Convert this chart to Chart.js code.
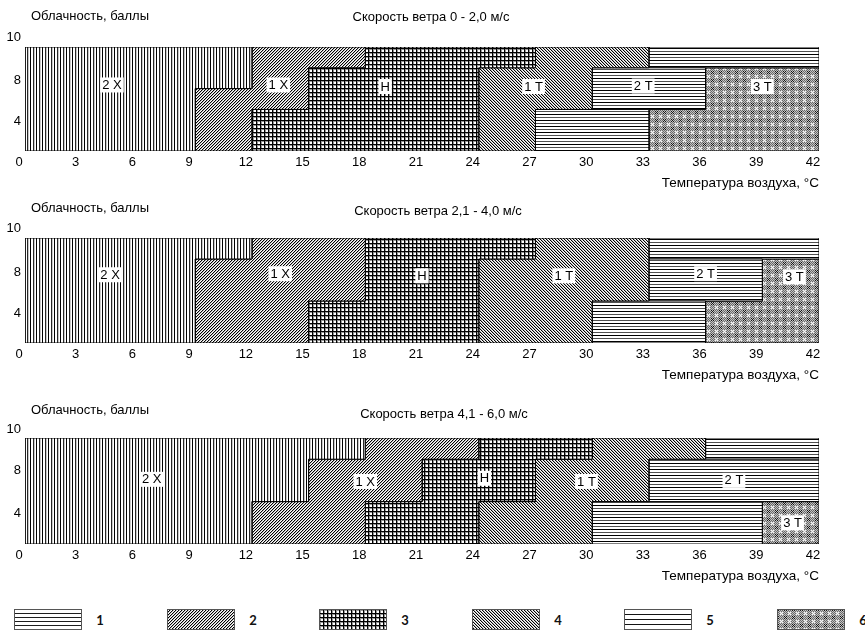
<!DOCTYPE html>
<html>
<head>
<meta charset="utf-8">
<script src="https://cdn.jsdelivr.net/npm/chart.js@4.4.1/dist/chart.umd.min.js"></script>
<style>
  body { margin: 0; background: #fff; width: 865px; height: 631px; position: relative; overflow: hidden;
         font-family: 'Liberation Sans', Arial, sans-serif; }
  canvas.panel { position: absolute; left: 0; }
  canvas.swatch { position: absolute; top: 609px; }
  .legnum { position: absolute; top: 610px; width: 20px; margin-left: -10px; text-align: center;
            font: bold 13px Lato, 'Liberation Sans', sans-serif; color: #111; line-height: 20px; }
</style>
</head>
<body>
<canvas id="p0" class="panel" width="865" height="195" style="top:0px"></canvas>
<canvas id="p1" class="panel" width="865" height="196" style="top:191px"></canvas>
<canvas id="p2" class="panel" width="865" height="197" style="top:391px"></canvas>
<div id="legend"></div>
<script>
// --- DATA ---
const tempTicks = [0, 3, 6, 9, 12, 15, 18, 21, 24, 27, 30, 33, 36, 39, 42];
const cloudTickLabels = ['10', '8', '4'];
// the numbers on the cloud axis sit a bit above the band edges in the source
const cloudTickAt = [
  [10.9, 6.8, 2.85],
  [10.95, 6.7, 2.85],
  [10.85, 6.9, 2.9]
];
const windTitles = ['Скорость ветра 0 - 2,0 м/с', 'Скорость ветра 2,1 - 4,0 м/с', 'Скорость ветра 4,1 - 6,0 м/с'];
const classNames = ['2 Х', '1 Х', 'Н', '1 Т', '2 Т', '3 Т'];
const legendNums = ['1', '2', '3', '4', '5', '6'];

// zones: [fill, [[t, cloud], ...]]  (temperature °C, cloudiness)
const zones0 = [
  ['vert',  [[0,0],[9,0],[9,6],[12,6],[12,10],[0,10]]],
  ['fwd',   [[9,0],[12,0],[12,4],[15,4],[15,8],[18,8],[18,10],[12,10],[12,6],[9,6]]],
  ['grid',  [[12,0],[24,0],[24,8],[27,8],[27,10],[18,10],[18,8],[15,8],[15,4],[12,4]]],
  ['back',  [[24,0],[27,0],[27,4],[30,4],[30,8],[33,8],[33,10],[27,10],[27,8],[24,8]]],
  ['horiz', [[27,0],[33,0],[33,4],[27,4]]],
  ['horiz', [[30,4],[36,4],[36,8],[30,8]]],
  ['horiz', [[33,8],[42,8],[42,10],[33,10]]],
  ['dots',  [[33,0],[42,0],[42,8],[36,8],[36,4],[33,4]]]
];
const zones1 = [
  ['vert',  [[0,0],[9,0],[9,8],[12,8],[12,10],[0,10]]],
  ['fwd',   [[9,0],[15,0],[15,4],[18,4],[18,10],[12,10],[12,8],[9,8]]],
  ['grid',  [[15,0],[24,0],[24,8],[27,8],[27,10],[18,10],[18,4],[15,4]]],
  ['back',  [[24,0],[30,0],[30,4],[33,4],[33,10],[27,10],[27,8],[24,8]]],
  ['horiz', [[30,0],[36,0],[36,4],[30,4]]],
  ['horiz', [[33,4],[39,4],[39,8],[33,8]]],
  ['horiz', [[33,8],[42,8],[42,10],[33,10]]],
  ['dots',  [[36,0],[42,0],[42,8],[39,8],[39,4],[36,4]]]
];
const zones2 = [
  ['vert',  [[0,0],[12,0],[12,4],[15,4],[15,8],[18,8],[18,10],[0,10]]],
  ['fwd',   [[12,0],[18,0],[18,4],[21,4],[21,8],[24,8],[24,10],[18,10],[18,8],[15,8],[15,4],[12,4]]],
  ['grid',  [[18,0],[24,0],[24,4],[27,4],[27,8],[30,8],[30,10],[24,10],[24,8],[21,8],[21,4],[18,4]]],
  ['back',  [[24,0],[30,0],[30,4],[33,4],[33,8],[36,8],[36,10],[30,10],[30,8],[27,8],[27,4],[24,4]]],
  ['horiz', [[30,0],[39,0],[39,4],[30,4]]],
  ['horiz', [[33,4],[42,4],[42,8],[33,8]]],
  ['horiz', [[36,8],[42,8],[42,10],[36,10]]],
  ['dots',  [[39,0],[42,0],[42,4],[39,4]]]
];
// where the class names sit, [t, cloud], in classNames order
const namesAt0 = [[4.6,6.35],[13.4,6.35],[19.05,6.2],[26.9,6.2],[32.7,6.25],[39.0,6.2]];
const namesAt1 = [[4.5,6.5],[13.5,6.6],[21.0,6.4],[28.5,6.4],[36.0,6.6],[40.7,6.3]];
const namesAt2 = [[6.7,6.1],[18.0,5.9],[24.3,6.2],[29.7,5.9],[37.5,6.0],[40.6,2.0]];

const legendFills = ['horizL', 'fwd', 'grid', 'back', 'horizW', 'dots'];

const FONT = "'Liberation Sans', Arial, sans-serif";
Chart.defaults.font.family = FONT;
Chart.defaults.font.size = 13;
Chart.defaults.color = '#000';

// --- PATTERNS ---
function tile(w, h, fn) {
  const c = document.createElement('canvas');
  c.width = w; c.height = h;
  const g = c.getContext('2d');
  const img = g.createImageData(w, h);
  for (let y = 0; y < h; y++) for (let x = 0; x < w; x++) {
    const v = fn(x, y), i = (y * w + x) * 4;
    img.data[i] = img.data[i + 1] = img.data[i + 2] = v;
    img.data[i + 3] = 255;
  }
  g.putImageData(img, 0, 0);
  return g.createPattern(c, 'repeat');
}
const patterns = {
  vert: tile(6, 1, x => x === 0 ? 0 : x === 3 ? 40 : x === 4 ? 200 : 255),
  fwd: tile(3, 3, (x, y) => { const k = (x + y) % 3; return k === 0 ? 0 : k === 1 ? 185 : 255; }),
  back: tile(3, 3, (x, y) => { const k = (x - y + 3) % 3; return k === 0 ? 0 : k === 1 ? 185 : 255; }),
  grid: tile(4, 4, (x, y) => (x === 0 || y === 0) ? 0 : (x === 1 || y === 1) ? 150 : 255),
  horiz: tile(1, 6, (x, y) => y === 0 ? 0 : y === 3 ? 80 : 255),
  horizL: tile(1, 4, (x, y) => y === 0 ? 30 : 255),
  horizW: tile(1, 5, (x, y) => y === 0 ? 20 : 255),
  dots: tile(8, 8, (x, y) => {
    const dx = Math.abs(x - 4), dy = Math.abs(y - 4);
    if (dx === dy && dx <= 1) return 245;
    if (dx >= 3 && dy >= 3 && dx === dy) return 20;
    return (x + y) % 2 ? 195 : 105;
  })
};

// --- PLUGINS ---
const headings = {
  id: 'headings',
  afterDraw(chart, args, o) {
    const {ctx, chartArea: a} = chart;
    ctx.save();
    ctx.font = '13px ' + FONT;
    ctx.fillStyle = '#000';
    ctx.textBaseline = 'middle';
    ctx.textAlign = 'left';
    ctx.fillText('Облачность, баллы', a.left + 6, a.top - o.leftDy);
    ctx.textAlign = 'center';
    ctx.fillText(o.title, (a.left + a.right) / 2 + o.titleDx, a.top - o.titleDy);
    ctx.restore();
  }
};
const zoneNames = {
  id: 'zoneNames',
  afterDatasetsDraw(chart, args, o) {
    const {ctx, scales} = chart;
    ctx.save();
    ctx.font = '13px ' + FONT;
    ctx.textBaseline = 'middle';
    ctx.textAlign = 'center';
    o.at.forEach(([t, c], i) => {
      const px = scales.x.getPixelForValue(t), py = scales.y.getPixelForValue(c);
      const w = ctx.measureText(classNames[i]).width;
      ctx.fillStyle = '#fff';
      ctx.fillRect(px - w / 2 - 2, py - 7.5, w + 4, 15);
      ctx.fillStyle = '#000';
      ctx.fillText(classNames[i], px, py + 0.5);
    });
    ctx.restore();
  }
};

const panels = [
  {zones: zones0, at: namesAt0, leftDy: 31, titleDy: 30, titleDx: 9},
  {zones: zones1, at: namesAt1, leftDy: 30, titleDy: 27, titleDx: 16},
  {zones: zones2, at: namesAt2, leftDy: 28, titleDy: 24, titleDx: 22}
];

panels.forEach((p, n) => {
  new Chart(document.getElementById('p' + n), {
    type: 'line',
    data: {
      datasets: p.zones.map(([fill, pts]) => ({
        data: [...pts, pts[0]].map(([x, y]) => ({x, y})),
        backgroundColor: patterns[fill],
        borderColor: '#000',
        borderWidth: 1,
        fill: 'shape',
        pointRadius: 0,
        tension: 0
      }))
    },
    options: {
      responsive: false,
      animation: false,
      devicePixelRatio: 1,
      layout: {padding: {top: 47, right: 46, left: 0, bottom: 0}},
      plugins: {
        legend: {display: false},
        tooltip: {enabled: false},
        headings: {title: windTitles[n], leftDy: p.leftDy, titleDy: p.titleDy, titleDx: p.titleDx},
        zoneNames: {at: p.at}
      },
      scales: {
        x: {
          type: 'linear', min: 0, max: 42,
          border: {display: false},
          grid: {display: false, drawTicks: false},
          afterBuildTicks: s => { s.ticks = tempTicks.map(v => ({value: v})); },
          afterFit: s => { s.height = 44; },
          ticks: {autoSkip: false, maxRotation: 0, padding: 4, labelOffset: -6, color: '#000'},
          title: {display: true, text: 'Температура воздуха, °С', align: 'end', color: '#000',
                  font: {size: 13.5}, padding: {top: 0, bottom: 4}}
        },
        y: {
          type: 'linear', min: 0, max: 10,
          border: {display: false},
          grid: {display: false, drawTicks: false},
          afterBuildTicks: s => { s.ticks = cloudTickAt[n].map(v => ({value: v})); },
          afterFit: s => { s.width = 25; },
          ticks: {padding: 4, color: '#000', callback: (v, i) => cloudTickLabels[i]}
        }
      }
    },
    plugins: [headings, zoneNames]
  });
});

// --- LEGEND ---
const legendDiv = document.getElementById('legend');
legendNums.forEach((num, i) => {
  const left = Math.round(14 + 152.5 * i);
  const c = document.createElement('canvas');
  c.className = 'swatch';
  c.width = 68; c.height = 21;
  c.style.left = left + 'px';
  const g = c.getContext('2d');
  g.fillStyle = patterns[legendFills[i]];
  g.fillRect(0, 0, 68, 21);
  g.strokeStyle = '#555';
  g.lineWidth = 1;
  g.strokeRect(0.5, 0.5, 67, 20);
  legendDiv.appendChild(c);
  const s = document.createElement('div');
  s.className = 'legnum';
  s.style.left = (left + 86) + 'px';
  s.textContent = num;
  legendDiv.appendChild(s);
});
</script>
</body>
</html>
